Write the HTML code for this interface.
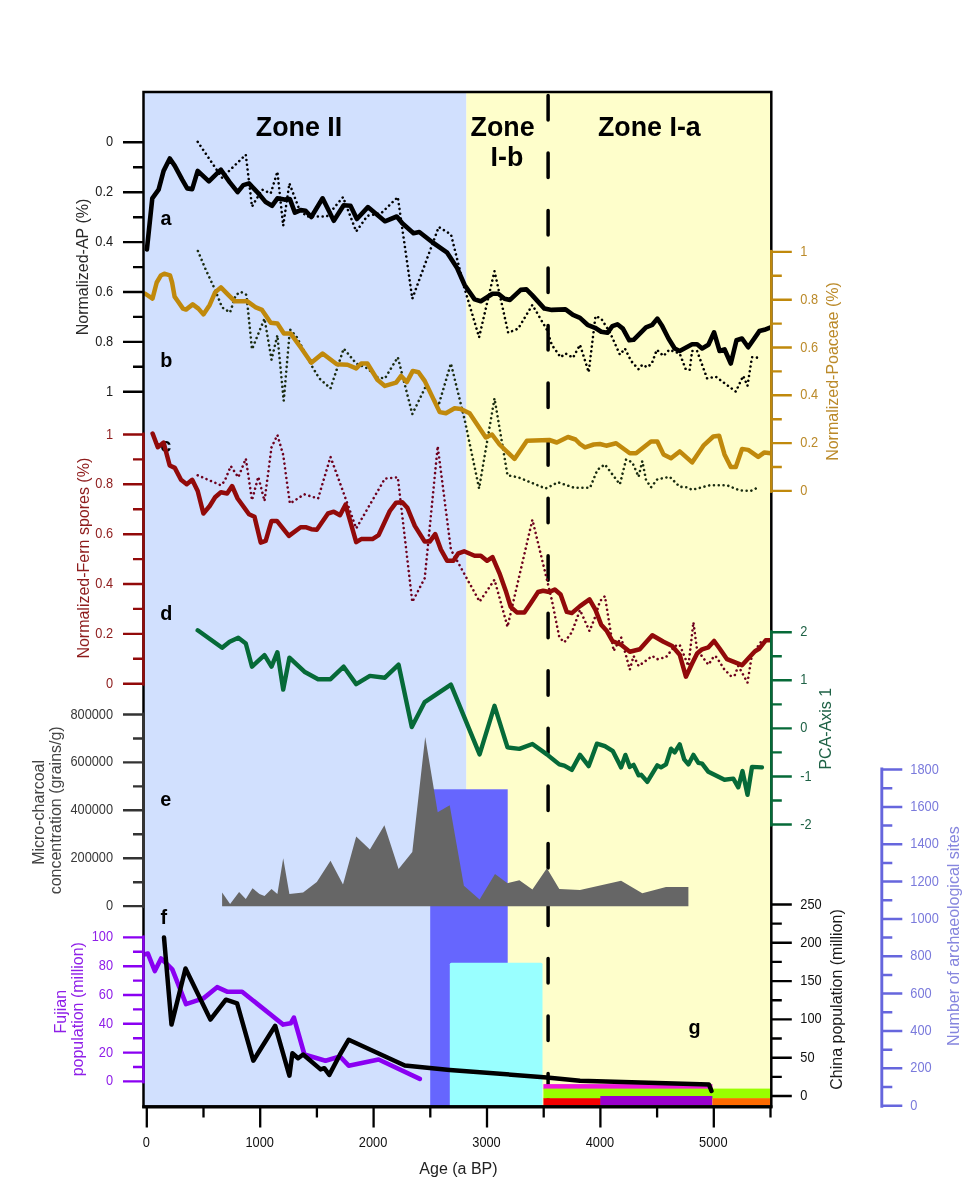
<!DOCTYPE html>
<html lang="en"><head><meta charset="utf-8"><title>Pollen, charcoal and population records</title>
<style>html,body{margin:0;padding:0;background:#fff}svg{display:block}text{font-family:"Liberation Sans", Arial, Helvetica, sans-serif}</style>
</head><body>
<svg width="963" height="1179" viewBox="0 0 963 1179">
<rect width="963" height="1179" fill="#ffffff"/>
<rect x="143.5" y="92.0" width="322.9" height="1014.5" fill="#d1e0fe"/>
<rect x="466.4" y="92.0" width="304.9" height="1014.5" fill="#fefecb"/>
<line x1="548.1" y1="95.4" x2="548.1" y2="1104" stroke="#000" stroke-width="3.5" stroke-linecap="round" stroke-dasharray="24.5 33.04"/>
<rect x="430.2" y="789.3" width="77.5" height="317.2" fill="#6666fe"/>
<rect x="449.8" y="962.7" width="92.7" height="144.8" rx="1.6" fill="#99ffff"/>
<rect x="543.4" y="1084.1" width="169" height="5" fill="#f016dc"/>
<rect x="543.4" y="1088.6" width="227.9" height="10" fill="#99ff00"/>
<rect x="543.4" y="1098.2" width="57.5" height="7.5" fill="#f40000"/>
<rect x="600.3" y="1096" width="112.1" height="9.5" fill="#9900cc"/>
<rect x="712.4" y="1098.2" width="58.9" height="7.5" fill="#ff6a00"/>
<polygon points="222.1,906.2 222.1,892.5 230.1,903.9 239.1,892.0 245.8,898.9 252.5,888.2 259.5,894.0 264.5,896.0 271.5,889.0 277.4,894.0 283.2,858.3 289.4,894.0 303.1,892.5 316.8,882.0 330.5,860.8 343.0,884.5 356.2,836.6 369.9,849.6 384.4,825.2 398.6,869.0 412.3,852.1 425.2,736.9 437.7,812.2 449.7,805.2 463.9,885.7 479.6,899.4 495.0,874.0 507.5,883.2 519.4,880.2 532.4,889.5 546.9,868.3 559.3,889.0 580.0,890.0 621.1,880.7 642.3,893.2 666.0,887.0 688.4,887.0 688.4,906.2" fill="#666666"/>
<clipPath id="plot"><rect x="143.5" y="92.0" width="627.8" height="1014.5"/></clipPath>
<g font-weight="bold" font-size="19.8" fill="#000">
<text transform="translate(160.5 224.5) scale(1 1.06)">a</text>
<text transform="translate(160.3 366.9) scale(1 1.06)">b</text>
<text transform="translate(160.3 452.0) scale(1 1.06)">c</text>
<text transform="translate(160.3 619.8) scale(1 1.06)">d</text>
<text transform="translate(160.3 805.5) scale(1 1.06)">e</text>
<text transform="translate(160.6 923.5) scale(1 1.06)">f</text>
<text transform="translate(688.5 1033.6) scale(1 1.06)">g</text>
</g>
<g clip-path="url(#plot)">
<polyline points="197.7,141.8 222.1,177.7 245.8,154.7 252.0,206.6 262.0,189.6 270.7,193.4 277.4,171.7 283.2,225.8 289.4,183.4 299.4,209.6 306.9,216.5 326.8,216.5 343.0,197.1 356.2,231.5 367.4,215.8 381.1,213.3 397.8,197.1 412.3,298.7 438.7,227.0 451.0,234.5 463.9,286.2 479.1,337.3 494.5,271.2 508.2,332.8 518.2,328.6 532.4,304.9 546.9,329.8 551.8,344.8 560.6,357.2 565.5,353.5 573.0,357.7 580.0,344.8 588.7,372.2 595.5,316.1 601.2,318.6 609.9,332.3 619.9,354.7 624.9,348.5 631.1,361.0 638.6,369.2 642.3,364.7 647.3,367.2 651.8,363.5 656.8,349.8 663.5,356.0 669.2,349.8 679.7,353.5 685.9,369.7 689.7,369.7 692.1,351.0 697.1,351.0 707.1,378.4 715.8,376.7 735.8,391.6 743.2,375.9 747.5,385.9 752.0,357.2 757.4,357.7" fill="none" stroke="#000000" stroke-width="2.6" stroke-linejoin="round" stroke-linecap="round" stroke-dasharray="0.01 4.8"/>
<polyline points="197.9,251.0 205.9,270.0 214.6,288.7 222.1,307.4 230.1,312.4 235.8,294.9 240.8,291.9 246.5,294.9 252.0,349.3 264.5,318.6 271.5,359.7 277.4,335.3 283.7,400.8 289.9,329.3 296.9,337.3 311.8,366.0 319.3,378.4 330.5,388.4 343.7,348.5 356.2,363.5 367.4,368.4 377.4,377.2 384.9,378.4 397.8,357.2 412.3,414.1 426.0,385.9 438.4,405.8 450.9,363.5 464.6,419.5 479.1,488.5 494.5,398.3 507.5,475.3 518.2,477.3 545.6,488.5 558.1,482.3 574.3,487.8 580.0,487.8 590.0,487.8 597.4,469.8 604.9,464.4 619.9,484.3 626.1,459.4 632.3,462.4 638.6,476.8 642.3,461.1 646.0,479.8 651.0,487.3 657.3,479.3 669.7,476.8 679.7,486.8 687.2,487.3 692.1,489.8 709.6,485.3 727.0,485.3 739.5,490.3 750.7,491.0 758.2,487.3" fill="none" stroke="#1a2c10" stroke-width="2.6" stroke-linejoin="round" stroke-linecap="round" stroke-dasharray="0.01 4.8"/>
<polyline points="197.7,475.3 220.9,485.3 224.6,481.1 230.8,466.1 238.3,477.3 245.8,458.6 252.0,500.2 258.3,476.8 264.5,501.0 271.5,447.4 277.4,435.0 283.2,454.9 289.9,503.5 304.4,494.3 318.1,498.5 330.5,456.9 340.0,483.0 356.2,528.4 384.9,478.6 397.8,477.3 412.3,602.0 424.7,578.3 437.7,446.2 450.9,549.6 479.6,601.6 494.5,579.7 507.5,626.8 532.4,519.7 551.8,599.9 559.3,637.3 564.3,642.3 571.8,632.3 580.0,610.0 589.5,631.1 595.5,616.1 599.9,601.2 604.9,596.2 609.9,627.3 613.6,651.0 621.1,637.3 629.8,669.7 633.6,656.0 638.6,666.0 652.3,656.0 657.3,659.2 666.0,657.2 674.7,646.0 679.7,644.8 688.4,666.0 693.4,622.3 697.1,649.8 708.4,664.7 714.1,656.0 716.6,657.2 724.5,669.7 730.8,675.9 734.5,675.9 738.3,666.0 747.5,682.7 752.0,654.7 760.7,642.3" fill="none" stroke="#6e001e" stroke-width="2.6" stroke-linejoin="round" stroke-linecap="round" stroke-dasharray="0.01 4.8"/>
<polyline points="197.7,630.3 222.1,647.8 229.6,641.8 238.3,637.8 245.8,643.5 252.0,666.7 264.5,655.2 271.5,666.7 277.4,652.2 283.2,689.6 289.4,657.7 304.4,671.7 318.1,679.2 330.5,679.2 343.7,666.7 356.2,684.1 369.9,675.9 384.9,677.7 398.6,664.7 411.8,727.0 424.7,702.1 450.9,684.6 479.6,754.4 494.5,705.8 507.5,747.4 519.4,748.9 532.4,744.0 546.9,754.4 559.3,764.4 564.3,765.6 571.8,769.9 580.0,754.9 588.7,766.1 596.9,743.7 604.9,746.2 612.9,751.2 621.1,767.4 625.4,754.9 629.8,766.9 633.6,764.9 638.6,775.3 641.1,774.8 647.3,781.8 657.3,765.4 661.0,767.4 666.0,764.4 671.0,748.7 674.7,752.4 679.7,744.4 684.2,759.4 688.4,764.4 693.4,754.9 698.4,762.9 702.1,763.6 708.4,771.8 724.5,779.8 733.3,778.6 738.3,787.3 742.5,771.1 747.5,794.8 752.0,766.9 761.9,767.4" fill="none" stroke="#066a38" stroke-width="4.4" stroke-linejoin="round" stroke-linecap="round" />
<polyline points="144.9,293.5 152.5,298.6 156.7,282.5 160.9,275.4 164.2,273.7 170.0,275.4 172.1,282.5 174.6,296.6 177.5,300.8 183.0,308.6 186.0,309.6 192.7,304.4 198.4,308.6 203.4,314.4 209.7,304.9 215.1,292.4 220.9,287.4 228.3,294.9 234.6,301.2 247.0,301.2 255.8,307.4 262.0,309.9 270.7,322.8 277.4,323.6 283.9,333.6 290.7,333.6 300.6,347.3 311.3,362.7 322.6,353.5 336.8,364.2 347.5,364.7 356.2,368.4 361.2,363.5 367.4,363.5 377.4,379.7 384.9,385.9 396.1,382.6 401.1,375.9 406.8,382.1 412.8,370.9 418.5,372.2 424.7,380.9 439.7,412.1 445.9,413.3 454.6,408.3 460.9,409.1 469.6,413.3 485.8,437.5 492.0,434.5 499.5,444.5 514.5,458.9 526.9,440.7 549.3,440.0 556.8,442.5 568.0,437.0 575.5,439.5 580.0,444.0 585.0,447.4 593.7,444.5 599.9,444.0 606.2,445.7 616.1,443.2 629.8,453.2 636.1,453.2 651.0,441.5 657.3,441.5 663.5,454.4 671.0,458.2 679.7,451.4 692.1,462.4 703.4,445.7 713.3,436.5 719.1,435.7 724.5,454.4 730.8,466.9 735.8,466.9 742.0,448.9 748.2,449.9 758.2,456.9 764.4,452.4 770.7,453.2" fill="none" stroke="#c0890c" stroke-width="4.5" stroke-linejoin="round" stroke-linecap="round" />
<polyline points="152.6,433.5 157.8,447.2 163.6,442.6 169.7,465.5 174.8,467.9 181.0,479.8 186.7,484.3 192.2,479.8 197.7,491.0 203.4,513.5 209.7,506.0 215.1,497.3 220.9,492.3 227.1,493.5 232.1,486.0 237.6,498.5 249.0,514.2 254.5,516.7 260.7,542.6 265.7,540.9 271.5,520.9 276.9,520.9 288.9,535.9 300.6,527.2 305.6,527.2 311.3,529.2 316.8,529.7 328.0,513.5 333.8,511.7 340.0,515.2 345.5,504.7 356.2,542.1 361.2,539.1 372.4,539.1 378.6,535.1 389.8,511.0 396.1,502.7 402.3,502.2 407.3,507.7 414.8,525.9 424.7,541.6 429.7,541.6 435.2,534.1 440.9,549.6 447.2,560.8 453.4,560.8 458.4,553.3 464.1,551.3 474.6,555.8 480.8,555.8 487.0,560.8 492.5,557.1 499.5,573.3 505.7,590.7 510.7,606.9 516.9,612.4 524.4,612.4 530.7,603.2 538.1,592.0 543.1,590.7 549.3,592.0 554.8,589.5 560.6,594.5 566.8,611.9 571.8,613.1 580.0,606.1 589.5,599.4 595.5,609.9 601.2,624.8 606.9,631.1 612.4,641.0 621.1,644.8 629.8,651.7 639.8,649.3 652.3,635.3 663.5,641.8 672.2,646.0 679.7,654.7 685.9,676.7 692.1,663.5 697.1,653.5 702.1,649.3 708.4,647.3 714.1,641.0 719.6,648.5 727.0,659.2 742.0,665.2 748.2,658.5 754.5,651.7 759.4,648.5 765.7,640.3 771.4,640.3" fill="none" stroke="#920a0a" stroke-width="4.5" stroke-linejoin="round" stroke-linecap="round" />
<polyline points="146.9,249.4 152.3,198.3 158.6,189.6 163.6,170.9 169.8,158.5 174.8,165.9 182.2,179.7 187.2,188.4 192.2,189.1 197.7,170.9 208.9,181.4 220.9,169.7 229.6,182.1 237.6,192.1 243.3,185.1 249.0,183.4 259.5,194.6 265.7,202.1 272.0,205.8 277.4,198.3 284.4,199.6 289.9,199.1 294.9,212.6 300.6,210.1 305.6,210.8 311.3,217.0 322.6,198.3 333.8,220.8 343.7,205.3 350.5,205.8 356.9,219.0 367.9,207.1 384.9,221.3 396.8,216.5 402.3,223.3 413.5,233.2 419.3,232.0 432.7,242.5 447.2,252.7 457.1,268.0 464.6,285.0 474.6,299.4 480.8,301.2 492.5,293.7 498.3,293.7 504.5,298.7 510.0,299.9 520.7,289.9 526.4,289.4 531.9,294.9 544.4,308.6 551.8,309.9 565.5,309.4 573.0,314.9 580.0,317.9 587.5,324.8 595.0,327.8 601.2,331.8 607.4,332.8 612.4,326.1 617.4,324.3 622.9,328.6 629.3,340.3 633.6,339.8 646.0,327.3 652.3,324.8 657.3,318.6 662.2,326.1 668.5,338.5 674.7,348.5 679.7,351.0 692.1,344.3 697.1,344.3 702.1,348.5 708.4,344.8 714.1,332.3 719.6,351.0 724.5,349.3 730.8,363.5 736.5,340.3 742.0,338.5 748.2,347.3 759.4,331.1 764.4,329.8 770.7,327.3" fill="none" stroke="#000" stroke-width="4.6" stroke-linejoin="round" stroke-linecap="round" />
<polyline points="144.9,954.3 147.9,953.6 154.8,971.0 161.1,958.5 172.3,969.3 186.0,1004.1 203.4,998.4 217.1,987.2 227.1,991.7 242.1,991.7 283.2,1024.6 290.7,1023.3 293.9,1017.6 304.4,1054.5 325.5,1060.7 340.0,1056.5 348.7,1065.7 378.6,1059.5 419.8,1078.9" fill="none" stroke="#8a00f2" stroke-width="4.6" stroke-linejoin="round" stroke-linecap="round" />
<polyline points="164.0,937.4 171.5,1024.6 185.5,968.5 210.4,1019.6 225.9,999.7 237.1,1003.4 253.3,1060.7 275.2,1025.8 289.4,1075.7 292.4,1053.2 298.1,1058.2 303.1,1054.5 320.6,1069.4 324.3,1068.2 329.3,1074.9 340.0,1054.5 348.7,1039.7 404.8,1065.5 449.7,1069.9 546.9,1077.4 580.0,1080.7 709.0,1084.6 711.5,1091.0" fill="none" stroke="#000" stroke-width="4.5" stroke-linejoin="round" stroke-linecap="round" />
</g>
<rect x="143.5" y="92.0" width="627.8" height="1014.5" fill="none" stroke="#000" stroke-width="2.5"/>
<path d="M143.5 142.3h-20.5M143.5 167.2h-10.5M143.5 192.2h-20.5M143.5 217.2h-10.5M143.5 242.1h-20.5M143.5 267.1h-10.5M143.5 292.0h-20.5M143.5 316.9h-10.5M143.5 341.9h-20.5M143.5 366.8h-10.5M143.5 391.8h-20.5" stroke="#000" stroke-width="2.4" fill="none"/>
<g fill="#1a1a1a" font-size="12.8" text-anchor="end">
<text transform="translate(113.1 146.3) scale(1 1.08)">0</text>
<text transform="translate(113.1 196.2) scale(1 1.08)">0.2</text>
<text transform="translate(113.1 246.1) scale(1 1.08)">0.4</text>
<text transform="translate(113.1 296.0) scale(1 1.08)">0.6</text>
<text transform="translate(113.1 345.9) scale(1 1.08)">0.8</text>
<text transform="translate(113.1 395.8) scale(1 1.08)">1</text>
</g>
<line x1="771.3" y1="249.9" x2="771.3" y2="492.9" stroke="#c0890c" stroke-width="2.5"/>
<path d="M771.3 251.9h20.5M771.3 275.8h10.5M771.3 299.7h20.5M771.3 323.6h10.5M771.3 347.5h20.5M771.3 371.4h10.5M771.3 395.3h20.5M771.3 419.2h10.5M771.3 443.1h20.5M771.3 467.0h10.5M771.3 490.9h20.5" stroke="#c0890c" stroke-width="2.4" fill="none"/>
<g fill="#bb8a2a" font-size="12.8" text-anchor="start">
<text transform="translate(800.3 255.9) scale(1 1.08)">1</text>
<text transform="translate(800.3 303.7) scale(1 1.08)">0.8</text>
<text transform="translate(800.3 351.5) scale(1 1.08)">0.6</text>
<text transform="translate(800.3 399.3) scale(1 1.08)">0.4</text>
<text transform="translate(800.3 447.1) scale(1 1.08)">0.2</text>
<text transform="translate(800.3 494.9) scale(1 1.08)">0</text>
</g>
<line x1="143.5" y1="432.5" x2="143.5" y2="685.7" stroke="#920a0a" stroke-width="2.5"/>
<path d="M143.5 434.5h-20.5M143.5 459.4h-10.5M143.5 484.3h-20.5M143.5 509.3h-10.5M143.5 534.2h-20.5M143.5 559.1h-10.5M143.5 584.0h-20.5M143.5 608.9h-10.5M143.5 633.9h-20.5M143.5 658.8h-10.5M143.5 683.7h-20.5" stroke="#920a0a" stroke-width="2.4" fill="none"/>
<g fill="#8e1c1c" font-size="12.8" text-anchor="end">
<text transform="translate(113.1 438.5) scale(1 1.08)">1</text>
<text transform="translate(113.1 488.3) scale(1 1.08)">0.8</text>
<text transform="translate(113.1 538.2) scale(1 1.08)">0.6</text>
<text transform="translate(113.1 588.0) scale(1 1.08)">0.4</text>
<text transform="translate(113.1 637.9) scale(1 1.08)">0.2</text>
<text transform="translate(113.1 687.7) scale(1 1.08)">0</text>
</g>
<line x1="771.3" y1="630.3" x2="771.3" y2="826.5" stroke="#066a38" stroke-width="2.5"/>
<path d="M771.3 632.3h20.5M771.3 656.3h10.5M771.3 680.3h20.5M771.3 704.4h10.5M771.3 728.4h20.5M771.3 752.4h10.5M771.3 776.5h20.5M771.3 800.5h10.5M771.3 824.5h20.5" stroke="#066a38" stroke-width="2.4" fill="none"/>
<g fill="#1f6246" font-size="12.8" text-anchor="start">
<text transform="translate(800.3 636.3) scale(1 1.08)">2</text>
<text transform="translate(800.3 684.3) scale(1 1.08)">1</text>
<text transform="translate(800.3 732.4) scale(1 1.08)">0</text>
<text transform="translate(800.3 780.5) scale(1 1.08)">-1</text>
<text transform="translate(800.3 828.5) scale(1 1.08)">-2</text>
</g>
<line x1="143.5" y1="712.5" x2="143.5" y2="908.1" stroke="#333" stroke-width="2.5"/>
<path d="M143.5 714.5h-20.5M143.5 738.5h-10.5M143.5 762.4h-20.5M143.5 786.4h-10.5M143.5 810.3h-20.5M143.5 834.2h-10.5M143.5 858.2h-20.5M143.5 882.2h-10.5M143.5 906.1h-20.5" stroke="#333" stroke-width="2.4" fill="none"/>
<g fill="#3a3a3a" font-size="12.8" text-anchor="end">
<text transform="translate(113.1 718.5) scale(1 1.08)">800000</text>
<text transform="translate(113.1 766.4) scale(1 1.08)">600000</text>
<text transform="translate(113.1 814.3) scale(1 1.08)">400000</text>
<text transform="translate(113.1 862.2) scale(1 1.08)">200000</text>
<text transform="translate(113.1 910.1) scale(1 1.08)">0</text>
</g>
<line x1="143.5" y1="935.4" x2="143.5" y2="1083.4" stroke="#8a00f2" stroke-width="2.5"/>
<path d="M143.5 937.4h-20.5M143.5 951.8h-10.5M143.5 966.2h-20.5M143.5 980.6h-10.5M143.5 995.0h-20.5M143.5 1009.4h-10.5M143.5 1023.8h-20.5M143.5 1038.2h-10.5M143.5 1052.6h-20.5M143.5 1067.0h-10.5M143.5 1081.4h-20.5" stroke="#8a00f2" stroke-width="2.4" fill="none"/>
<g fill="#8f1fe8" font-size="12.8" text-anchor="end">
<text transform="translate(113.1 941.4) scale(1 1.08)">100</text>
<text transform="translate(113.1 970.2) scale(1 1.08)">80</text>
<text transform="translate(113.1 999.0) scale(1 1.08)">60</text>
<text transform="translate(113.1 1027.8) scale(1 1.08)">40</text>
<text transform="translate(113.1 1056.6) scale(1 1.08)">20</text>
<text transform="translate(113.1 1085.4) scale(1 1.08)">0</text>
</g>
<path d="M771.3 904.5h20.5M771.3 923.6h10.5M771.3 942.8h20.5M771.3 961.9h10.5M771.3 981.1h20.5M771.3 1000.2h10.5M771.3 1019.4h20.5M771.3 1038.5h10.5M771.3 1057.7h20.5M771.3 1076.9h10.5M771.3 1096.0h20.5" stroke="#000" stroke-width="2.4" fill="none"/>
<g fill="#111" font-size="12.8" text-anchor="start">
<text transform="translate(800.3 908.5) scale(1 1.08)">250</text>
<text transform="translate(800.3 946.8) scale(1 1.08)">200</text>
<text transform="translate(800.3 985.1) scale(1 1.08)">150</text>
<text transform="translate(800.3 1023.4) scale(1 1.08)">100</text>
<text transform="translate(800.3 1061.7) scale(1 1.08)">50</text>
<text transform="translate(800.3 1100.0) scale(1 1.08)">0</text>
</g>
<line x1="881.8" y1="767.5" x2="881.8" y2="1107.8" stroke="#6666dd" stroke-width="2.9"/>
<path d="M881.8 769.5h20.5M881.8 788.2h10.5M881.8 806.9h20.5M881.8 825.5h10.5M881.8 844.2h20.5M881.8 862.9h10.5M881.8 881.6h20.5M881.8 900.2h10.5M881.8 918.9h20.5M881.8 937.6h10.5M881.8 956.3h20.5M881.8 975.0h10.5M881.8 993.6h20.5M881.8 1012.3h10.5M881.8 1031.0h20.5M881.8 1049.7h10.5M881.8 1068.3h20.5M881.8 1087.0h10.5M881.8 1105.7h20.5" stroke="#6666dd" stroke-width="2.5" fill="none"/>
<g fill="#7a7adc" font-size="12.8" text-anchor="start">
<text transform="translate(910.3 773.5) scale(1 1.08)">1800</text>
<text transform="translate(910.3 810.9) scale(1 1.08)">1600</text>
<text transform="translate(910.3 848.2) scale(1 1.08)">1400</text>
<text transform="translate(910.3 885.6) scale(1 1.08)">1200</text>
<text transform="translate(910.3 922.9) scale(1 1.08)">1000</text>
<text transform="translate(910.3 960.3) scale(1 1.08)">800</text>
<text transform="translate(910.3 997.6) scale(1 1.08)">600</text>
<text transform="translate(910.3 1035.0) scale(1 1.08)">400</text>
<text transform="translate(910.3 1072.3) scale(1 1.08)">200</text>
<text transform="translate(910.3 1109.7) scale(1 1.08)">0</text>
</g>
<line x1="142.2" y1="1106.9" x2="772.5" y2="1106.9" stroke="#000" stroke-width="3.2"/>
<path d="M146.8 1106.5v21M203.5 1106.5v11M260.2 1106.5v21M316.9 1106.5v11M373.6 1106.5v21M430.3 1106.5v11M487.0 1106.5v21M543.7 1106.5v11M600.4 1106.5v21M657.1 1106.5v11M713.8 1106.5v21M770.5 1106.5v11" stroke="#000" stroke-width="2.3" fill="none"/>
<g fill="#111" font-size="12.8" text-anchor="middle">
<text transform="translate(146.3 1147.2) scale(1 1.08)">0</text>
<text transform="translate(259.7 1147.2) scale(1 1.08)">1000</text>
<text transform="translate(373.1 1147.2) scale(1 1.08)">2000</text>
<text transform="translate(486.5 1147.2) scale(1 1.08)">3000</text>
<text transform="translate(599.9 1147.2) scale(1 1.08)">4000</text>
<text transform="translate(713.3 1147.2) scale(1 1.08)">5000</text>
</g>
<text x="458.5" y="1174" text-anchor="middle" font-size="16" fill="#222">Age (a BP)</text>
<text transform="translate(87.6 267.0) rotate(-90) scale(1 1.03)" text-anchor="middle" font-size="16" fill="#2a2a2a">Normalized-AP (%)</text>
<text transform="translate(837.5 371.5) rotate(-90) scale(1 1.03)" text-anchor="middle" font-size="16" fill="#bb8a2a">Normalized-Poaceae (%)</text>
<text transform="translate(88.5 558.2) rotate(-90) scale(1 1.03)" text-anchor="middle" font-size="16" fill="#8e1c1c">Normalized-Fern spores (%)</text>
<text transform="translate(830.8 728.7) rotate(-90) scale(1 1.03)" text-anchor="middle" font-size="16" fill="#1f6246">PCA-Axis 1</text>
<text transform="translate(44.3 812.4) rotate(-90) scale(1 1.03)" text-anchor="middle" font-size="16" fill="#444">Micro-charcoal</text>
<text transform="translate(61.4 810.3) rotate(-90) scale(1 1.03)" text-anchor="middle" font-size="16" fill="#444">concentration (grains/g)</text>
<text transform="translate(65.7 1011.7) rotate(-90) scale(1 1.03)" text-anchor="middle" font-size="16" fill="#8f1fe8">Fujian</text>
<text transform="translate(82.5 1009.2) rotate(-90) scale(1 1.03)" text-anchor="middle" font-size="16" fill="#8f1fe8">population (million)</text>
<text transform="translate(841.7 999.5) rotate(-90) scale(1 1.03)" text-anchor="middle" font-size="16" fill="#1a1a1a">China population (million)</text>
<text transform="translate(959.0 936.1) rotate(-90) scale(1 1.03)" text-anchor="middle" font-size="16" fill="#8686de">Number of archaeological sites</text>
<g font-weight="bold" font-size="26.8" fill="#000">
<text transform="translate(255.8 135.7) scale(1 1.06)">Zone II</text>
<text transform="translate(470.6 135.7) scale(1 1.06)">Zone</text>
<text transform="translate(490.6 165.7) scale(1 1.06)">I-b</text>
<text transform="translate(598.0 135.7) scale(1 1.06)">Zone I-a</text>
</g>
</svg>
</body></html>
